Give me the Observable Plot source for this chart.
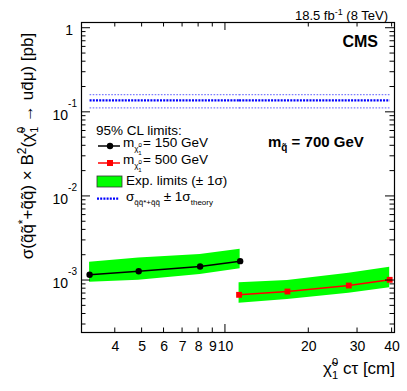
<!DOCTYPE html>
<html><head><meta charset="utf-8">
<script src="https://cdn.jsdelivr.net/npm/d3@7"></script>
<script src="https://cdn.jsdelivr.net/npm/@observablehq/plot@0.6"></script>
<style>
html,body{margin:0;padding:0;background:#fff;}
svg text{font-family:"Liberation Sans",Arial,Helvetica,sans-serif;}
</style>
</head><body><div id="chart"></div>
<script>
// ---- data ----
const ctau150 = [3.23, 4.86, 8.1, 11.3];
const obs150 = [1.17e-3, 1.29e-3, 1.47e-3, 1.70e-3];
const expLo150 = [0.955e-3, 1.01e-3, 1.18e-3, 1.38e-3];
const expHi150 = [1.65e-3, 1.85e-3, 2.04e-3, 2.36e-3];
const ctau500 = [11.2, 16.75, 27.9, 39.2];
const obs500 = [0.676e-3, 0.74e-3, 0.872e-3, 1.02e-3];
const expLo500 = [0.537e-3, 0.594e-3, 0.706e-3, 0.818e-3];
const expHi500 = [0.94e-3, 1.0e-3, 1.22e-3, 1.44e-3];
const theoryXsec = 0.139, theoryUp = 0.162, theoryDown = 0.113;
// ---- ticks ----
const xTickLabels = [4, 5, 6, 7, 8, 9, 10, 20, 30, 40];
const xMajorTicks = [10];
const xMinorTicks = [4, 5, 6, 7, 8, 9, 20, 30, 40];
const yMajorTicks = [1, 0.1, 0.01, 0.001];
const yTickBase = ["1", "10", "10", "10"];
const yTickExp = ["", "-1", "-2", "-3"];
const yMinorTicks = [3e-4,4e-4,5e-4,6e-4,7e-4,8e-4,9e-4,
  2e-3,3e-3,4e-3,5e-3,6e-3,7e-3,8e-3,9e-3,
  2e-2,3e-2,4e-2,5e-2,6e-2,7e-2,8e-2,9e-2,
  0.2,0.3,0.4,0.5,0.6,0.7,0.8,0.9];

const rows150 = ctau150.map((x, i) => ({x, obs: obs150[i], lo: expLo150[i], hi: expHi150[i]}));
const rows500 = ctau500.map((x, i) => ({x, obs: obs500[i], lo: expLo500[i], hi: expHi500[i]}));
const theoryRows = [...ctau150.map(x => ({x, seg: "a"})), ...ctau500.map(x => ({x, seg: "b"}))];

const font = "Liberation Sans, Arial, Helvetica, sans-serif";

const chart = Plot.plot({
  width: 407, height: 391,
  marginLeft: 81, marginRight: 13, marginTop: 22, marginBottom: 59,
  style: {fontFamily: font, fontSize: "14px", background: "white", color: "black"},
  x: {type: "log", domain: [3.02, 40.8], axis: null},
  y: {type: "log", domain: [2.41e-4, 1.17], axis: null},
  marks: [
    Plot.areaY(rows150, {x: "x", y1: "lo", y2: "hi", fill: "#00ff00"}),
    Plot.areaY(rows500, {x: "x", y1: "lo", y2: "hi", fill: "#00ff00"}),
    Plot.line(theoryRows, {x: "x", y: () => theoryUp, z: "seg", stroke: "#7b7bff", strokeWidth: 1.2, strokeDasharray: "1.6,1.5", strokeLinecap: "butt"}),
    Plot.line(theoryRows, {x: "x", y: () => theoryDown, z: "seg", stroke: "#7b7bff", strokeWidth: 1.2, strokeDasharray: "1.6,1.5", strokeLinecap: "butt"}),
    Plot.line(theoryRows, {x: "x", y: () => theoryXsec, z: "seg", stroke: "#0000ff", strokeWidth: 2.3, strokeDasharray: "2,1.2", strokeLinecap: "butt"}),
    Plot.line(rows150, {x: "x", y: "obs", stroke: "black", strokeWidth: 1.5}),
    Plot.dot(rows150, {x: "x", y: "obs", r: 3.2, fill: "black"}),
    Plot.line(rows500, {x: "x", y: "obs", stroke: "#ff0000", strokeWidth: 1.5}),
    Plot.dot(rows500, {x: "x", y: "obs", r: 3.3, symbol: "square", fill: "#ff0000"}),
    Plot.frame({stroke: "black", strokeWidth: 1.2}),
    Plot.text(xTickLabels, {x: d => d, frameAnchor: "bottom", dy: 18, text: d => String(d), fontSize: 14, fill: "black"})
  ]
});
document.getElementById("chart").appendChild(chart);

// ---- inward ticks on all four sides, placed through Plot's scales ----
const sx = chart.scale("x"), sy = chart.scale("y");
const x0 = 81, x1 = 407 - 13, y0 = 22, y1 = 391 - 59;
const svg = d3.select(chart);
const T = svg.append("g").attr("stroke", "black").attr("stroke-width", 1);
function yTicks(vals, len) {
  for (const v of vals) {
    const y = sy.apply(v);
    T.append("line").attr("x1", x0).attr("x2", x0 + len).attr("y1", y).attr("y2", y);
    T.append("line").attr("x1", x1).attr("x2", x1 - len).attr("y1", y).attr("y2", y);
  }
}
function xTicks(vals, len) {
  for (const v of vals) {
    const x = sx.apply(v);
    T.append("line").attr("x1", x).attr("x2", x).attr("y1", y1).attr("y2", y1 - len);
    T.append("line").attr("x1", x).attr("x2", x).attr("y1", y0).attr("y2", y0 + len);
  }
}
yTicks(yMajorTicks, 9);
yTicks(yMinorTicks, 4.5);
xTicks(xMajorTicks, 8);
xTicks(xMinorTicks, 4.5);

// ---- annotations and legend ----
const g = svg.append("g").attr("fill", "black").attr("text-anchor", "start").style("font-family", font);

function rich(parent, x, y, parts, attrs = {}) {
  const t = parent.append("text").attr("x", x).attr("y", y).attr("text-anchor", "start");
  for (const [k, v] of Object.entries(attrs)) t.attr(k, v);
  for (const p of parts) {
    const s = t.append("tspan").text(p.t);
    if (p.size) s.attr("font-size", p.size);
    if (p.dy) s.attr("dy", p.dy);
    if (p.dx) s.attr("dx", p.dx);
    if (p.x !== undefined) s.attr("x", p.x);
    if (p.w) s.attr("font-weight", p.w);
  }
  return t;
}

// y tick labels (positions from Plot's y scale)
yMajorTicks.forEach((v, i) => {
  const y = sy.apply(v);
  if (yTickExp[i] === "") {
    rich(g, 73, y + 7, [{t: yTickBase[i], size: 14}], {"text-anchor": "end"});
  } else {
    rich(g, 77, y + 8, [
      {t: yTickBase[i], size: 14},
      {t: yTickExp[i], size: 10, dy: -13}
    ], {"text-anchor": "end"});
  }
});

// top-right luminosity label
rich(g, 388, 20, [
  {t: "18.5 fb", size: 13},
  {t: "-1", size: 9, dy: -5},
  {t: " (8 TeV)", size: 13, dy: 5}
], {"text-anchor": "end"});

// CMS
g.append("text").attr("x", 378).attr("y", 47).attr("text-anchor", "end")
  .attr("font-size", 16).attr("font-weight", "bold").text("CMS");

// squark mass
rich(g, 268, 147, [
  {t: "m", size: 15, w: "bold"},
  {t: "q\u0303", size: 10, dy: 4, w: "bold"},
  {t: " = 700 GeV", size: 15, dy: -4, w: "bold"}
]);

// y-axis title
rich(g, 0, 0, [
  {t: "\u03c3(q\u0303q\u0303", size: 17},
  {t: "*", size: 12, dy: -6},
  {t: "+q\u0303q\u0303) \u00d7 B", size: 17, dy: 6},
  {t: "2", size: 12, dy: -7},
  {t: "(\u03c7\u0303", size: 17, dy: 7},
  {t: "0", size: 11, dy: -8},
  {t: "1", size: 11, dx: -6, dy: 13},
  {t: " \u2192 ud\u0304\u03bc) [pb]", size: 17, dy: -5}
], {"text-anchor": "middle", transform: "translate(33,146) rotate(-90)"});

// x-axis title
rich(g, 395, 374, [
  {t: "\u03c7\u0303", size: 17},
  {t: "0", size: 11, dy: -8},
  {t: "1", size: 11, dx: -6, dy: 13},
  {t: " c\u03c4 [cm]", size: 17, dy: -5}
], {"text-anchor": "end"});

// legend
const L = g.append("g");
L.append("text").attr("x", 96).attr("y", 135).attr("font-size", 13.5).attr("text-anchor", "start").text("95% CL limits:");

function massEntry(y, label, color, marker) {
  L.append("line").attr("x1", 98).attr("x2", 120).attr("y1", y).attr("y2", y)
    .attr("stroke", color).attr("stroke-width", 1.5);
  if (marker === "circle") L.append("circle").attr("cx", 110).attr("cy", y).attr("r", 3.2).attr("fill", color);
  else L.append("rect").attr("x", 107).attr("y", y - 3).attr("width", 6).attr("height", 6).attr("fill", color);
  rich(L, 123, y + 1, [
    {t: "m", size: 13.5},
    {t: "\u03c7\u0303", size: 8, dy: 4},
    {t: "0", size: 6, dy: -4},
    {t: "1", size: 6, dx: -3.5, dy: 8},
    {t: "= " + label, size: 13.5, dy: -8, x: 143}
  ]);
}
massEntry(146, "150 GeV", "black", "circle");
massEntry(163, "500 GeV", "#ff0000", "square");

L.append("rect").attr("x", 97).attr("y", 176).attr("width", 25).attr("height", 11)
  .attr("fill", "#00ff00").attr("stroke", "#333").attr("stroke-width", 0.8);
L.append("text").attr("x", 126).attr("y", 185).attr("font-size", 13.5).attr("text-anchor", "start").text("Exp. limits (\u00b1 1\u03c3)");

L.append("line").attr("x1", 97).attr("x2", 119).attr("y1", 198.7).attr("y2", 198.7)
  .attr("stroke", "#0000ff").attr("stroke-width", 2.3).attr("stroke-dasharray", "2,1.2");
rich(L, 126, 201, [
  {t: "\u03c3", size: 13.5},
  {t: "q\u0303q\u0303*+q\u0303q\u0303", size: 8, dy: 4},
  {t: " \u00b1 1\u03c3", size: 13.5, dy: -4},
  {t: "theory", size: 8, dy: 4}
]);
</script>
</body></html>
